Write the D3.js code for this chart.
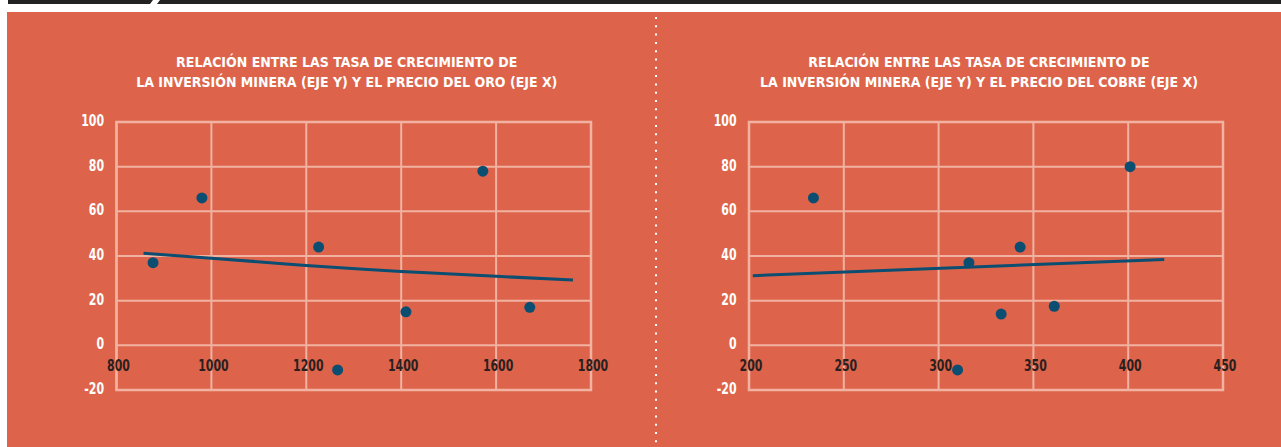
<!DOCTYPE html>
<html><head><meta charset="utf-8">
<script src="https://cdn.jsdelivr.net/npm/d3@7"></script>
<style>body{margin:0;background:#fff;overflow:hidden}</style>
</head><body><svg id="c" width="1281" height="447"></svg>
<script>
// ---- data ----
const titleGold = ["RELACIÓN ENTRE LAS TASA DE CRECIMIENTO DE", "LA INVERSIÓN MINERA (EJE Y) Y EL PRECIO DEL ORO (EJE X)"];
const titleCopper = ["RELACIÓN ENTRE LAS TASA DE CRECIMIENTO DE", "LA INVERSIÓN MINERA (EJE Y) Y EL PRECIO DEL COBRE (EJE X)"];
const yTicks = [-20, 0, 20, 40, 60, 80, 100];
const goldTicks = [800, 1000, 1200, 1400, 1600, 1800];
const copperTicks = [200, 250, 300, 350, 400, 450];
const goldPrice = [877, 980, 1226, 1266, 1410, 1572, 1671];
const goldInvGrowth = [37, 66, 44, -11, 15, 78, 17];
const copperPrice = [234, 316, 343, 310, 333, 361, 401];
const copperInvGrowth = [66, 37, 44, -11, 14, 17.5, 80];
const goldTrendX = [857, 1000, 1200, 1400, 1600, 1762];
const goldTrendY = [41.2, 39.0, 35.8, 33.1, 30.9, 29.3];
const copperTrendX = [202, 419];
const copperTrendY = [31.2, 38.4];

// ---- style ----
const BG = "#DD644A", GRID = "#F1B2A2", DOT = "#0B4E72", FONT = "'DejaVu Sans Condensed','Liberation Sans',sans-serif";
const SX = 0.76; // horizontal condensing of tick labels

const svg = d3.select("#c");
svg.append("rect").attr("x", 0).attr("y", 0).attr("width", 1281).attr("height", 447).attr("fill", "#fff");
svg.append("path").attr("d", "M8,0 L153,0 L150,4 L8,4 Z").attr("fill", "#222");
svg.append("path").attr("d", "M160,0 L1281,0 L1281,4 L157,4 Z").attr("fill", "#222");
svg.append("rect").attr("x", 7).attr("y", 12).attr("width", 1274).attr("height", 435).attr("fill", BG);
svg.append("line").attr("x1", 656).attr("x2", 656).attr("y1", 17).attr("y2", 447)
  .attr("stroke", "#fff").attr("stroke-width", 2).attr("stroke-dasharray", "2,6.3");

function chart(cfg) {
  const x = d3.scaleLinear().domain(cfg.xDomain).range([cfg.left, cfg.right]);
  const y = d3.scaleLinear().domain([-20, 100]).range([390, 122]);
  const g = svg.append("g");
  cfg.title.forEach((t, i) => {
    g.append("g").attr("transform", `translate(${(cfg.left + cfg.right) / 2 - 7},${66.5 + i * 20}) scale(0.965,1)`)
      .append("text").attr("text-anchor", "middle").attr("fill", "#fff").attr("font-family", FONT)
      .attr("font-weight", "bold").attr("font-size", 14.5).text(t);
  });
  g.selectAll(".gx").data(cfg.xTicks).enter().append("line")
    .attr("x1", d => x(d)).attr("x2", d => x(d)).attr("y1", y(100)).attr("y2", y(-20))
    .attr("stroke", GRID).attr("stroke-width", 2);
  g.selectAll(".gy").data(yTicks).enter().append("line")
    .attr("x1", x(cfg.xDomain[0])).attr("x2", x(cfg.xDomain[1])).attr("y1", d => y(d)).attr("y2", d => y(d))
    .attr("stroke", GRID).attr("stroke-width", 2);
  g.append("rect").attr("x", x(cfg.xDomain[0])).attr("y", y(100))
    .attr("width", x(cfg.xDomain[1]) - x(cfg.xDomain[0])).attr("height", y(-20) - y(100))
    .attr("fill", "none").attr("stroke", GRID).attr("stroke-width", 2.5);
  g.selectAll(".yl").data(yTicks).enter().append("g")
    .attr("transform", d => `translate(${cfg.left - 12.5},${y(d) + 4}) scale(${SX},1)`)
    .append("text").attr("text-anchor", "end")
    .attr("fill", "#fff").attr("font-family", FONT).attr("font-weight", "bold").attr("font-size", 16)
    .text(d => d);
  g.selectAll(".xl").data(cfg.xTicks).enter().append("g")
    .attr("transform", d => `translate(${x(d) + 2},371) scale(${SX},1)`)
    .append("text").attr("text-anchor", "middle")
    .attr("fill", "#2a2020").attr("font-family", FONT).attr("font-weight", "bold").attr("font-size", 16)
    .text(d => d);
  const line = d3.line().x(d => x(d[0])).y(d => y(d[1])).curve(d3.curveNatural);
  g.append("path").datum(cfg.tx.map((v, i) => [v, cfg.ty[i]])).attr("d", line)
    .attr("fill", "none").attr("stroke", DOT).attr("stroke-width", 3);
  g.selectAll(".pt").data(cfg.px.map((v, i) => [v, cfg.py[i]])).enter().append("circle")
    .attr("cx", d => x(d[0])).attr("cy", d => y(d[1])).attr("r", 5.5).attr("fill", DOT);
}

chart({title: titleGold, xDomain: [800, 1800], left: 116.5, right: 591, xTicks: goldTicks,
  px: goldPrice, py: goldInvGrowth, tx: goldTrendX, ty: goldTrendY});
chart({title: titleCopper, xDomain: [200, 450], left: 749, right: 1223, xTicks: copperTicks,
  px: copperPrice, py: copperInvGrowth, tx: copperTrendX, ty: copperTrendY});
</script>
</body></html>
